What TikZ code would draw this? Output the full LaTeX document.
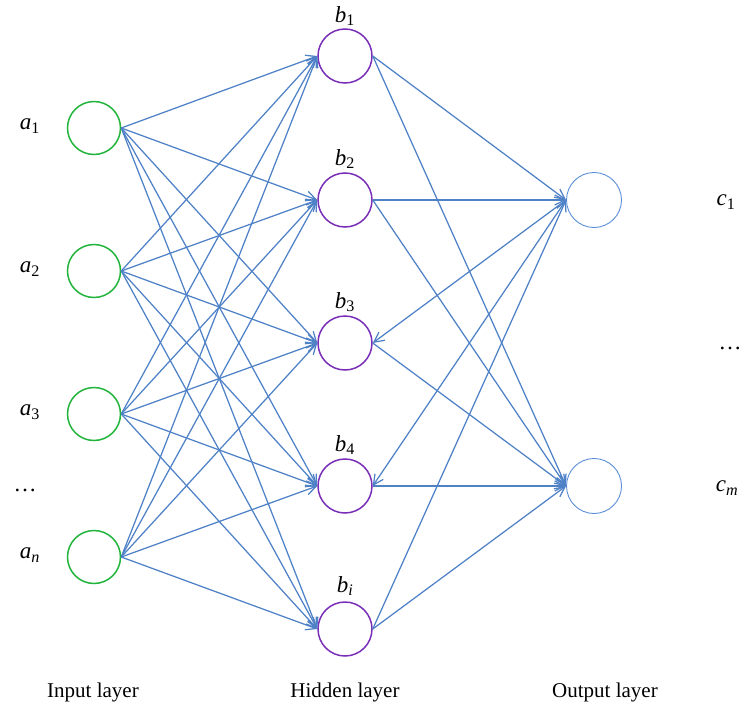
\documentclass[tikz,border=0pt]{standalone}
\usepackage{fontspec}
\setmainfont{Liberation Serif}
\usetikzlibrary{arrows.meta}
\definecolor{ingreen}{HTML}{22B43C}
\definecolor{hidpurple}{HTML}{7A2FB8}
\definecolor{lineblue}{HTML}{4F81C7}
\definecolor{outblue}{HTML}{5B8ED6}
\begin{document}
\begin{tikzpicture}[x=1pt,y=-1pt,
 inp/.style={circle,draw=ingreen,line width=1.5pt,minimum size=53pt,inner sep=0pt},
 hid/.style={circle,draw=hidpurple,line width=1.5pt,minimum size=54pt,inner sep=0pt},
 outn/.style={circle,draw=outblue,line width=0.9pt,minimum size=55pt,inner sep=0pt},
 arr/.style={draw=lineblue,line width=1.25pt,-{Straight Barb[length=10pt,width=10pt]}},
 lab/.style={font=\fontsize{21}{24}\selectfont,inner sep=0pt},
 mlab/.style={font=\fontsize{23}{26}\selectfont,inner sep=0pt},
]
\useasboundingbox (0,0) rectangle (740,712);
% input layer
\node[inp] (a1) at (94,128) {};
\node[inp] (a2) at (94,271) {};
\node[inp] (a3) at (94,414) {};
\node[inp] (a4) at (94,557) {};
% hidden layer
\node[hid] (h1) at (345,56) {};
\node[hid] (h2) at (345,200) {};
\node[hid] (h3) at (345,343) {};
\node[hid] (h4) at (345,486) {};
\node[hid] (h5) at (345,629) {};
% output layer
\node[outn] (c1) at (594,200) {};
\node[outn] (c2) at (594,486) {};
% connections input -> hidden
\foreach \i in {a1,a2,a3,a4}{
  \foreach \j in {h1,h2,h3,h4,h5}{
    \draw[arr] (\i.east) -- (\j.west);
  }
}
% hidden <-> output
\draw[arr] (h1.east) -- (c1.west);
\draw[arr] (h1.east) -- (c2.west);
\draw[arr] (h2.east) -- (c1.west);
\draw[arr] (h2.east) -- (c2.west);
\draw[arr] (c1.west) -- (h3.east);
\draw[arr] (h3.east) -- (c2.west);
\draw[arr] (c1.west) -- (h4.east);
\draw[arr] (h4.east) -- (c2.west);
\draw[arr] (h5.east) -- (c1.west);
\draw[arr] (h5.east) -- (c2.west);
% labels
\node[mlab] (la1) at (30,126) {\textit{a}\textsubscript{1}};
\node[mlab] (la2) at (30,269) {\textit{a}\textsubscript{2}};
\node[mlab] (la3) at (30,412) {\textit{a}\textsubscript{3}};
\node[mlab] (ldots) at (25,490) {\ldots};
\node[mlab] (la4) at (30,555) {\textit{a}\textsubscript{\textit{n}}};
\node[mlab] (lb1) at (345,16) {\textit{b}\textsubscript{1}};
\node[mlab] (lb2) at (345,159) {\textit{b}\textsubscript{2}};
\node[mlab] (lb3) at (345,302) {\textit{b}\textsubscript{3}};
\node[mlab] (lb4) at (345,445) {\textit{b}\textsubscript{4}};
\node[mlab] (lb5) at (345,586) {\textit{b}\textsubscript{\textit{i}}};
\node[mlab] (lc1) at (726,202) {\textit{c}\textsubscript{1}};
\node[mlab] (lcdots) at (730,348) {\ldots};
\node[mlab] (lc2) at (727,488) {\textit{c}\textsubscript{\textit{m}}};
\node[lab] (tin) at (93,692) {Input layer};
\node[lab] (thid) at (345,692) {Hidden layer};
\node[lab] (tout) at (605,692) {Output layer};
\end{tikzpicture}
\end{document}
